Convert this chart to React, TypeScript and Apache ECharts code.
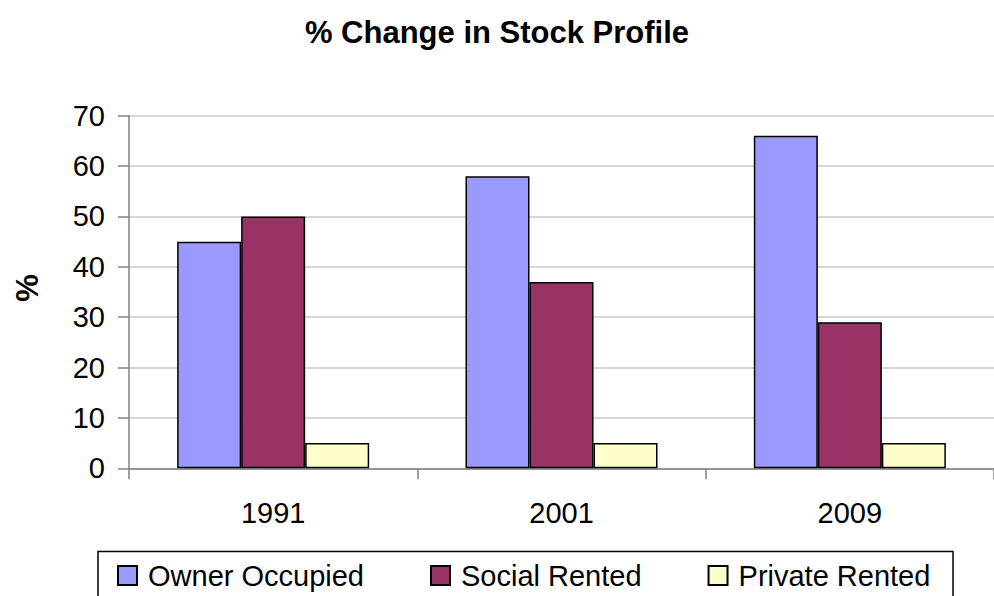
import React, { useEffect, useRef } from "react";
import * as echarts from "echarts";

const categories = ["1991", "2001", "2009"];
const ownerOccupied = [45, 58, 66];
const socialRented = [50, 37, 29];
const privateRented = [5, 5, 5];
const yTicks = { min: 0, max: 70, interval: 10 };

const FONT = "'Liberation Sans', Arial, Helvetica, sans-serif";

export default function App() {
  const ref = useRef<HTMLDivElement>(null);
  useEffect(() => {
    if (!ref.current) return;
    const chart = echarts.init(ref.current, undefined, { renderer: "svg" });
    const barItem = (color: string) => ({
      color,
      borderColor: "#000000",
      borderWidth: 1.5,
    });
    chart.setOption({
      animation: false,
      backgroundColor: "#ffffff",
      textStyle: { fontFamily: FONT },
      title: {
        text: "% Change in Stock Profile",
        left: "center",
        top: 12,
        textStyle: { fontFamily: FONT, fontSize: 31, fontWeight: "bold", color: "#000" },
      },
      legend: {
        left: 117,
        top: 561,
        padding: 0,
        itemWidth: 19,
        itemHeight: 19,
        itemGap: 66,
        icon: "rect",
        textStyle: { fontFamily: FONT, fontSize: 29, color: "#000", padding: [0, 0, 0, 6] },
        data: ["Owner Occupied", "Social Rented", "Private Rented"],
      },
      grid: { left: 129, right: -11, top: 115.7, bottom: 127.7, containLabel: false },
      xAxis: {
        type: "category",
        data: categories,
        boundaryGap: true,
        axisLine: { lineStyle: { color: "#808080", width: 1.5 } },
        axisTick: { show: true, length: 11, inside: false, alignWithLabel: false, lineStyle: { color: "#808080", width: 1.5 } },
        axisLabel: { fontFamily: FONT, fontSize: 29, color: "#000", margin: 30 },
      },
      yAxis: {
        type: "value",
        min: yTicks.min,
        max: yTicks.max,
        interval: yTicks.interval,
        axisLine: { show: true, lineStyle: { color: "#808080", width: 1.5 } },
        axisTick: { show: true, length: 11, lineStyle: { color: "#808080", width: 1.5 } },
        axisLabel: { fontFamily: FONT, fontSize: 29, color: "#000", margin: 24 },
        splitLine: { lineStyle: { color: "#c8c8c8", width: 1.5 } },
      },
      graphic: [
        {
          type: "text",
          x: 27,
          y: 288,
          rotation: Math.PI / 2,
          style: {
            text: "%",
            fontFamily: FONT,
            fontSize: 31,
            fontWeight: "bold",
            fill: "#000",
            textAlign: "center",
            textVerticalAlign: "middle",
          },
        },
        {
          type: "rect",
          shape: { x: 98, y: 551.5, width: 855, height: 80 },
          style: { fill: "none", stroke: "#000", lineWidth: 1.5 },
        },
      ],
      series: [
        { name: "Owner Occupied", type: "bar", data: ownerOccupied, itemStyle: barItem("#9999FF"), barGap: "0%", barCategoryGap: "33.4%" },
        { name: "Social Rented", type: "bar", data: socialRented, itemStyle: barItem("#993366"), barGap: "0%", barCategoryGap: "33.4%" },
        { name: "Private Rented", type: "bar", data: privateRented, itemStyle: barItem("#FFFFCC"), barGap: "0%", barCategoryGap: "33.4%" },
      ],
    });
    return () => chart.dispose();
  }, []);
  return <div ref={ref} style={{ position: "fixed", left: 0, top: 0, width: 994, height: 596 }} />;
}
